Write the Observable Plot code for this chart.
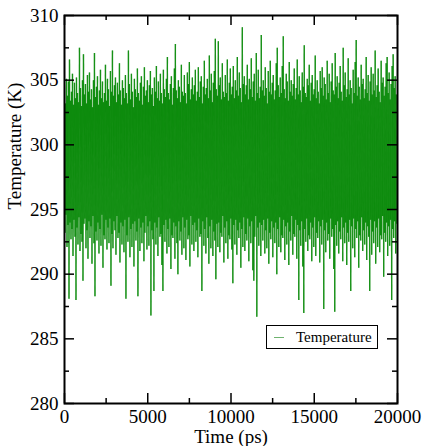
<!DOCTYPE html>
<html>
<head>
<meta charset="utf-8">
<script src="https://cdn.jsdelivr.net/npm/d3@7"></script>
<script src="https://cdn.jsdelivr.net/npm/@observablehq/plot@0.6"></script>
<style>
  html, body { margin: 0; padding: 0; background: #fff; }
  #wrap { position: relative; width: 423px; height: 446px; }
  #legend { position: absolute; left: 266px; top: 325px; width: 110px; height: 22px;
    border: 1px solid #000; background: #fff; font-family: "Liberation Serif", serif; font-size: 15px;
    display: flex; align-items: center; box-sizing: content-box; }
  #legend .sw { width: 10px; height: 0; border-top: 1px solid #6fb36f; margin-left: 7px; margin-right: 12px; }
</style>
</head>
<body>
<div id="wrap"></div>
<script>
const seriesName = "Temperature";
const xLabel = "Time (ps)";
const yLabel = "Temperature (K)";
const xMajor = [0, 5000, 10000, 15000, 20000];
const xMinor = [2500, 7500, 12500, 17500];
const yMajor = [280, 285, 290, 295, 300, 305, 310];
const yMinor = [282.5, 287.5, 292.5, 297.5, 302.5, 307.5];

// local maxima of the temperature trace (K)
const hi = [
304.6,303.2,305.1,303.8,304.9,306.6,303.4,304.1,305.5,303.1,
304.8,303.6,305.2,304.0,303.3,307.5,304.4,303.0,305.0,307.0,
303.9,304.7,303.2,305.4,304.1,305.6,303.5,304.3,302.9,305.0,
307.1,303.7,304.5,305.3,303.1,304.2,305.8,303.6,304.9,303.3,
304.0,306.2,303.4,305.1,304.3,303.0,305.7,304.1,307.3,303.8,
304.6,305.2,303.3,304.8,303.9,306.3,304.2,303.1,305.0,304.4,
303.6,305.4,304.0,303.2,307.3,304.7,303.5,305.5,304.1,302.9,
305.1,304.3,303.7,305.9,304.0,303.4,304.8,305.3,303.1,304.5,
306.0,303.8,304.2,305.0,303.3,304.6,305.7,303.9,304.4,303.0,
305.2,304.1,306.1,303.6,304.9,303.4,305.5,304.0,303.2,305.8,
304.3,303.7,305.1,306.8,304.0,303.5,304.7,305.3,303.1,304.4,
305.9,307.8,304.2,303.6,305.0,304.5,303.3,306.2,304.1,303.8,
305.4,304.0,303.2,305.6,304.7,306.4,303.5,304.3,305.2,303.9,
304.6,305.8,303.4,304.1,306.0,303.7,304.9,305.3,303.2,304.5,
306.5,303.9,304.4,305.1,303.6,306.9,304.2,305.5,303.3,304.8,
305.7,308.2,304.3,303.8,308.0,304.6,305.2,303.5,306.3,304.1,
303.7,305.4,304.0,306.6,303.4,304.8,305.9,303.9,304.5,306.1,
303.6,305.0,304.2,306.8,303.8,305.6,304.4,303.3,309.1,304.7,
305.3,303.9,304.6,306.2,303.5,305.1,304.3,306.7,303.7,304.9,
305.5,303.4,307.1,304.0,305.8,303.6,304.5,308.5,304.2,305.0,
303.8,306.0,304.4,303.2,305.7,304.1,306.5,303.9,304.8,305.4,
303.5,304.2,306.3,307.5,304.6,303.7,305.2,304.0,306.1,308.4,
304.3,303.6,305.5,304.9,303.4,306.4,304.1,305.0,303.8,304.7,
305.9,303.5,304.4,306.6,303.9,305.3,304.2,303.3,305.6,304.5,
307.7,304.0,303.7,305.1,304.6,306.2,303.4,304.8,305.4,303.9,
304.3,306.9,303.6,305.0,304.1,303.2,305.7,304.4,306.0,303.8,
305.2,304.7,303.5,306.5,304.0,305.5,303.3,304.9,306.3,304.2,
303.9,307.1,304.5,305.3,303.6,304.8,306.1,304.1,303.4,307.5,
304.6,305.6,303.7,304.3,306.7,303.9,305.0,304.4,303.2,305.8,
304.0,306.4,308.1,303.8,305.2,304.5,303.5,306.2,304.7,305.1,
303.6,304.3,306.8,304.0,305.4,303.4,304.9,306.0,303.9,305.5,
304.2,307.3,303.7,304.6,305.9,304.1,303.3,306.5,304.8,305.2,
303.8,304.5,306.3,306.8,304.0,305.6,303.5,304.7,306.1,307.0,
304.4,305.3,303.9
];
// local minima of the temperature trace (K)
const lo = [
293.2,294.6,292.1,293.8,288.1,294.0,292.7,293.5,291.4,294.2,
292.9,288.0,293.6,292.3,294.4,291.8,293.1,292.5,289.5,293.9,
294.3,292.0,293.4,291.2,294.1,292.8,293.7,290.8,294.5,292.4,
288.3,293.3,292.6,294.0,291.6,293.5,292.2,294.6,290.5,293.0,
292.7,294.2,291.9,293.6,292.4,294.3,289.1,293.1,292.0,294.1,
293.4,291.5,294.5,292.8,293.2,290.9,294.0,292.3,293.7,291.7,
294.2,288.1,293.0,292.5,294.4,291.3,293.5,292.1,293.9,290.6,
294.1,292.6,293.3,288.3,294.3,291.8,293.6,292.4,294.0,291.0,
293.2,294.5,291.9,293.7,292.2,294.1,286.8,293.4,292.7,288.7,
294.0,292.3,293.6,291.4,294.4,292.9,293.1,290.7,288.7,293.8,
292.5,294.2,291.6,293.5,292.1,294.3,290.4,293.0,292.8,294.0,
291.2,293.7,292.4,290.0,294.1,292.6,293.3,291.5,294.4,292.0,
293.6,291.1,294.2,292.7,293.0,290.6,294.5,292.3,293.8,291.8,
294.0,292.5,293.4,291.3,294.3,292.9,293.1,288.7,294.1,292.2,
293.5,291.6,294.4,292.8,290.8,293.7,292.0,294.2,291.4,293.3,
292.6,289.6,293.9,292.1,294.0,291.7,293.2,292.9,294.5,290.9,
293.6,292.4,294.1,291.2,293.0,292.7,294.3,291.9,289.3,293.8,
292.3,294.2,291.5,293.4,292.8,294.0,290.5,293.5,292.1,294.4,
291.8,293.1,292.6,294.3,291.0,293.7,292.4,294.1,290.3,289.5,
292.9,294.5,286.7,293.6,292.2,294.0,291.4,293.8,292.6,294.2,
291.6,293.4,292.0,294.3,290.8,293.2,292.7,294.1,291.3,293.6,
292.4,294.0,290.0,293.5,292.1,294.4,291.7,293.0,292.8,294.2,
291.1,293.7,292.3,294.0,290.7,293.3,292.6,294.5,291.5,293.1,
292.9,294.2,291.2,293.8,288.0,293.4,292.2,294.1,290.6,287.0,
293.5,292.5,294.3,291.8,293.0,292.7,294.0,291.0,293.6,292.1,
294.4,291.4,293.2,292.8,294.1,290.9,293.7,292.3,294.2,287.3,
293.4,291.7,294.0,292.6,293.1,291.2,294.3,292.9,293.5,290.4,
287.1,293.8,292.2,294.1,291.6,293.3,292.7,294.4,291.0,293.6,
292.4,294.0,290.7,293.2,292.5,294.2,288.7,293.7,292.0,294.3,
291.3,293.5,292.8,294.1,290.5,293.0,292.6,294.4,291.8,293.4,
292.3,294.0,291.1,293.7,292.9,288.7,294.2,291.5,293.3,292.4,
294.1,290.8,293.6,292.1,294.3,291.7,293.0,292.7,294.5,289.8,
293.2,292.5,294.0,291.4,293.7,292.2,294.2,288.0,293.5,292.8,
294.1,291.6,293.9
];
const step = 60; // ps per column (max at start, min at half step)

const data = hi.flatMap((v, i) => [{t: i * step, T: v}, {t: i * step + step / 2, T: lo[i]}]);
// consecutive samples as separate segments so that overlaps build up the dense core
const segs = d3.pairs(data);

const W = 423, H = 446;
const mL = 64, mR = 26, mT = 15, mB = 43;
const plotH = H - mT - mB, plotW = W - mL - mR;
const major = 10, minor = 5;

const chart = Plot.plot({
  width: W, height: H,
  marginLeft: mL, marginRight: mR, marginTop: mT, marginBottom: mB,
  style: {fontFamily: "'Liberation Serif', 'Times New Roman', serif", fontSize: "19px", color: "#000", background: "#fff"},
  x: {domain: [0, 20000]},
  y: {domain: [280, 310]},
  marks: [
    Plot.link(segs, {x1: d => d[0].t, y1: d => d[0].T, x2: d => d[1].t, y2: d => d[1].T,
      stroke: "#008600", strokeOpacity: 0.7, strokeWidth: 1.3, clip: true}),
    Plot.ruleX(xMajor, {insetTop: plotH - major, stroke: "#000", strokeWidth: 1.5}),
    Plot.ruleX(xMinor, {insetTop: plotH - minor, stroke: "#000", strokeWidth: 1.5}),
    Plot.ruleX(xMajor, {insetBottom: plotH - major, stroke: "#000", strokeWidth: 1.5}),
    Plot.ruleX(xMinor, {insetBottom: plotH - minor, stroke: "#000", strokeWidth: 1.5}),
    Plot.ruleY(yMajor, {insetRight: plotW - major, stroke: "#000", strokeWidth: 1.5}),
    Plot.ruleY(yMinor, {insetRight: plotW - minor, stroke: "#000", strokeWidth: 1.5}),
    Plot.ruleY(yMajor, {insetLeft: plotW - major, stroke: "#000", strokeWidth: 1.5}),
    Plot.ruleY(yMinor, {insetLeft: plotW - minor, stroke: "#000", strokeWidth: 1.5}),
    Plot.frame({stroke: "#000", strokeWidth: 2}),
    Plot.axisX(xMajor, {tickSize: 0, tickPadding: 6, fontSize: 19, label: null, tickFormat: d => String(d)}),
    Plot.axisY(yMajor, {tickSize: 0, tickPadding: 6, fontSize: 19, label: null, tickFormat: d => String(d)}),
    Plot.text([xLabel], {frameAnchor: "bottom", dy: 39, lineAnchor: "bottom", fontSize: 19, text: d => d, fill: "#000"}),
    Plot.text([yLabel], {frameAnchor: "left", dx: -50, rotate: -90, fontSize: 19, text: d => d, fill: "#000"})
  ]
});

const wrap = document.getElementById("wrap");
wrap.appendChild(chart);
const legend = document.createElement("div");
legend.id = "legend";
legend.innerHTML = '<span class="sw"></span><span>' + seriesName + '</span>';
wrap.appendChild(legend);
</script>
</body>
</html>
